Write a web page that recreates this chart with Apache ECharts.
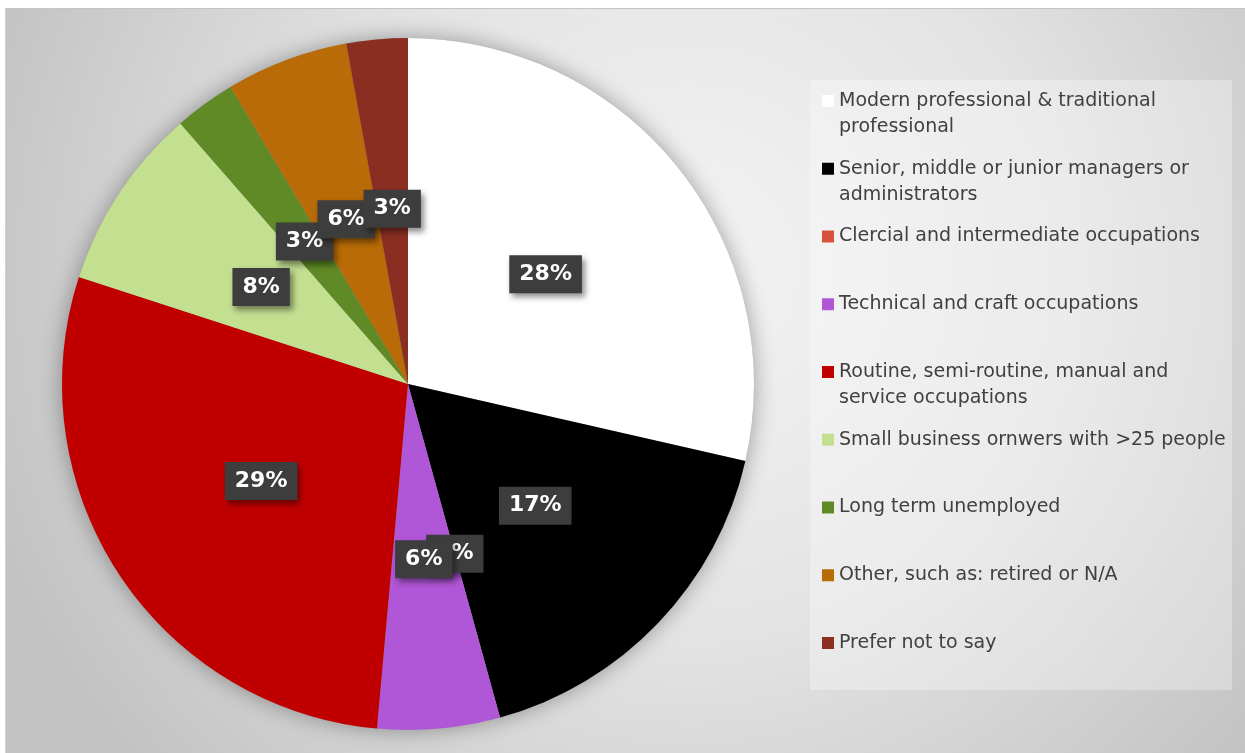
<!DOCTYPE html>
<html>
<head>
<meta charset="utf-8">
<script src="https://cdn.jsdelivr.net/npm/echarts@6/dist/echarts.min.js"></script>
<style>
  html, body { margin: 0; padding: 0; background: #ffffff; }
  #chart { position: absolute; left: 5px; top: 8px; width: 1240px; height: 745px;
           border-top: 1px solid #c4c4c4; border-left: 1px solid #d0d0d0; }
</style>
</head>
<body>
<div id="chart"></div>
<script>
// Categories (legend order = slice order, clockwise from 12 o'clock)
const categories = [
  'Modern professional & traditional professional',
  'Senior, middle or junior managers or administrators',
  'Clercial and intermediate occupations',
  'Technical and craft occupations',
  'Routine, semi-routine, manual and service occupations',
  'Small business ornwers with >25 people',
  'Long term unemployed',
  'Other, such as: retired or N/A',
  'Prefer not to say'
];
// Legend text as it wraps in the reference
const legendLines = [
  'Modern professional & traditional\nprofessional',
  'Senior, middle or junior managers or\nadministrators',
  'Clercial and intermediate occupations',
  'Technical and craft occupations',
  'Routine, semi-routine, manual and\nservice occupations',
  'Small business ornwers with >25 people',
  'Long term unemployed',
  'Other, such as: retired or N/A',
  'Prefer not to say'
];
// Respondent counts
const counts = [10, 6, 0, 2, 10, 3, 1, 2, 1];
// Percentage labels as printed on the chart
const pctLabels = ['28%', '17%', '0%', '6%', '29%', '8%', '3%', '6%', '3%'];
const colors = ['#ffffff', '#000000', '#d9533c', '#b057d8', '#c00000', '#c3e091', '#5f8a26', '#b86b06', '#8b2e22'];

const FONT = '"DejaVu Sans", "Noto Sans", sans-serif';
const LINE_H = 26;

const chart = echarts.init(document.getElementById('chart'), null, { renderer: 'canvas' });

const total = counts.reduce((a, b) => a + b, 0);

// every legend entry gets the same 3-line block height, first text line level with the icon
const legendData = categories.map((name, i) => {
  const nLines = legendLines[i].split('\n').length;
  return {
    name: name,
    textStyle: nLines === 2
      ? { padding: 0 }
      : { padding: [LINE_H, 0, LINE_H, 0], backgroundColor: 'rgba(0,0,0,0)' }
  };
});

const option = {
  backgroundColor: {
    type: 'radial', x: 0.55, y: 0.35, r: 1.0,
    colorStops: [
      { offset: 0, color: '#f4f4f4' },
      { offset: 0.5, color: '#e3e3e3' },
      { offset: 1, color: '#c2c2c2' }
    ]
  },
  animation: false,
  graphic: [{
    type: 'rect', left: 804, top: 71, z: -1,
    shape: { width: 422, height: 610 },
    style: { fill: 'rgba(255,255,255,0.3)' }
  }],
  legend: {
    orient: 'vertical',
    left: 816, top: 53,
    padding: 0,
    itemWidth: 12, itemHeight: 12,
    itemGap: -10.25,
    icon: 'rect',
    selectedMode: false,
    data: legendData,
    formatter: function (name) {
      const t = legendLines[categories.indexOf(name)];
      return t.indexOf('\n') >= 0 ? ' \n' + t : t;
    },
    textStyle: {
      fontFamily: FONT, fontSize: 19, color: '#404040', lineHeight: LINE_H
    }
  },
  series: [
    {
      type: 'pie', name: 'shadow', silent: true, z: 1,
      center: [402, 375], radius: 346,
      data: [{ name: '__bg', value: total }],
      label: { show: false }, labelLine: { show: false },
      itemStyle: { color: '#9a9a9a', shadowBlur: 22, shadowColor: 'rgba(0,0,0,0.35)' },
      emphasis: { disabled: true }
    },
    {
      type: 'pie', z: 2,
      center: [402, 375], radius: 346,
      startAngle: 90, clockwise: true,
      minShowLabelAngle: -1,
      avoidLabelOverlap: false,
      stillShowZeroSum: true,
      labelLayout: { hideOverlap: false },
      data: categories.map((n, i) => ({ name: n, value: counts[i], itemStyle: { color: colors[i] } })),
      itemStyle: { borderWidth: 0 },
      label: {
        show: true, position: 'inside',
        formatter: p => pctLabels[p.dataIndex],
        fontFamily: FONT, fontSize: 22, fontWeight: 'bold', color: '#ffffff',
        lineHeight: 26,
        backgroundColor: '#3d3d3d',
        padding: [6, 10, 6, 10],
        shadowBlur: 6, shadowOffsetX: 3, shadowOffsetY: 4, shadowColor: 'rgba(0,0,0,0.45)'
      },
      labelLine: { show: false },
      emphasis: { disabled: true }
    }
  ]
};
chart.setOption(option);
</script>
</body>
</html>
